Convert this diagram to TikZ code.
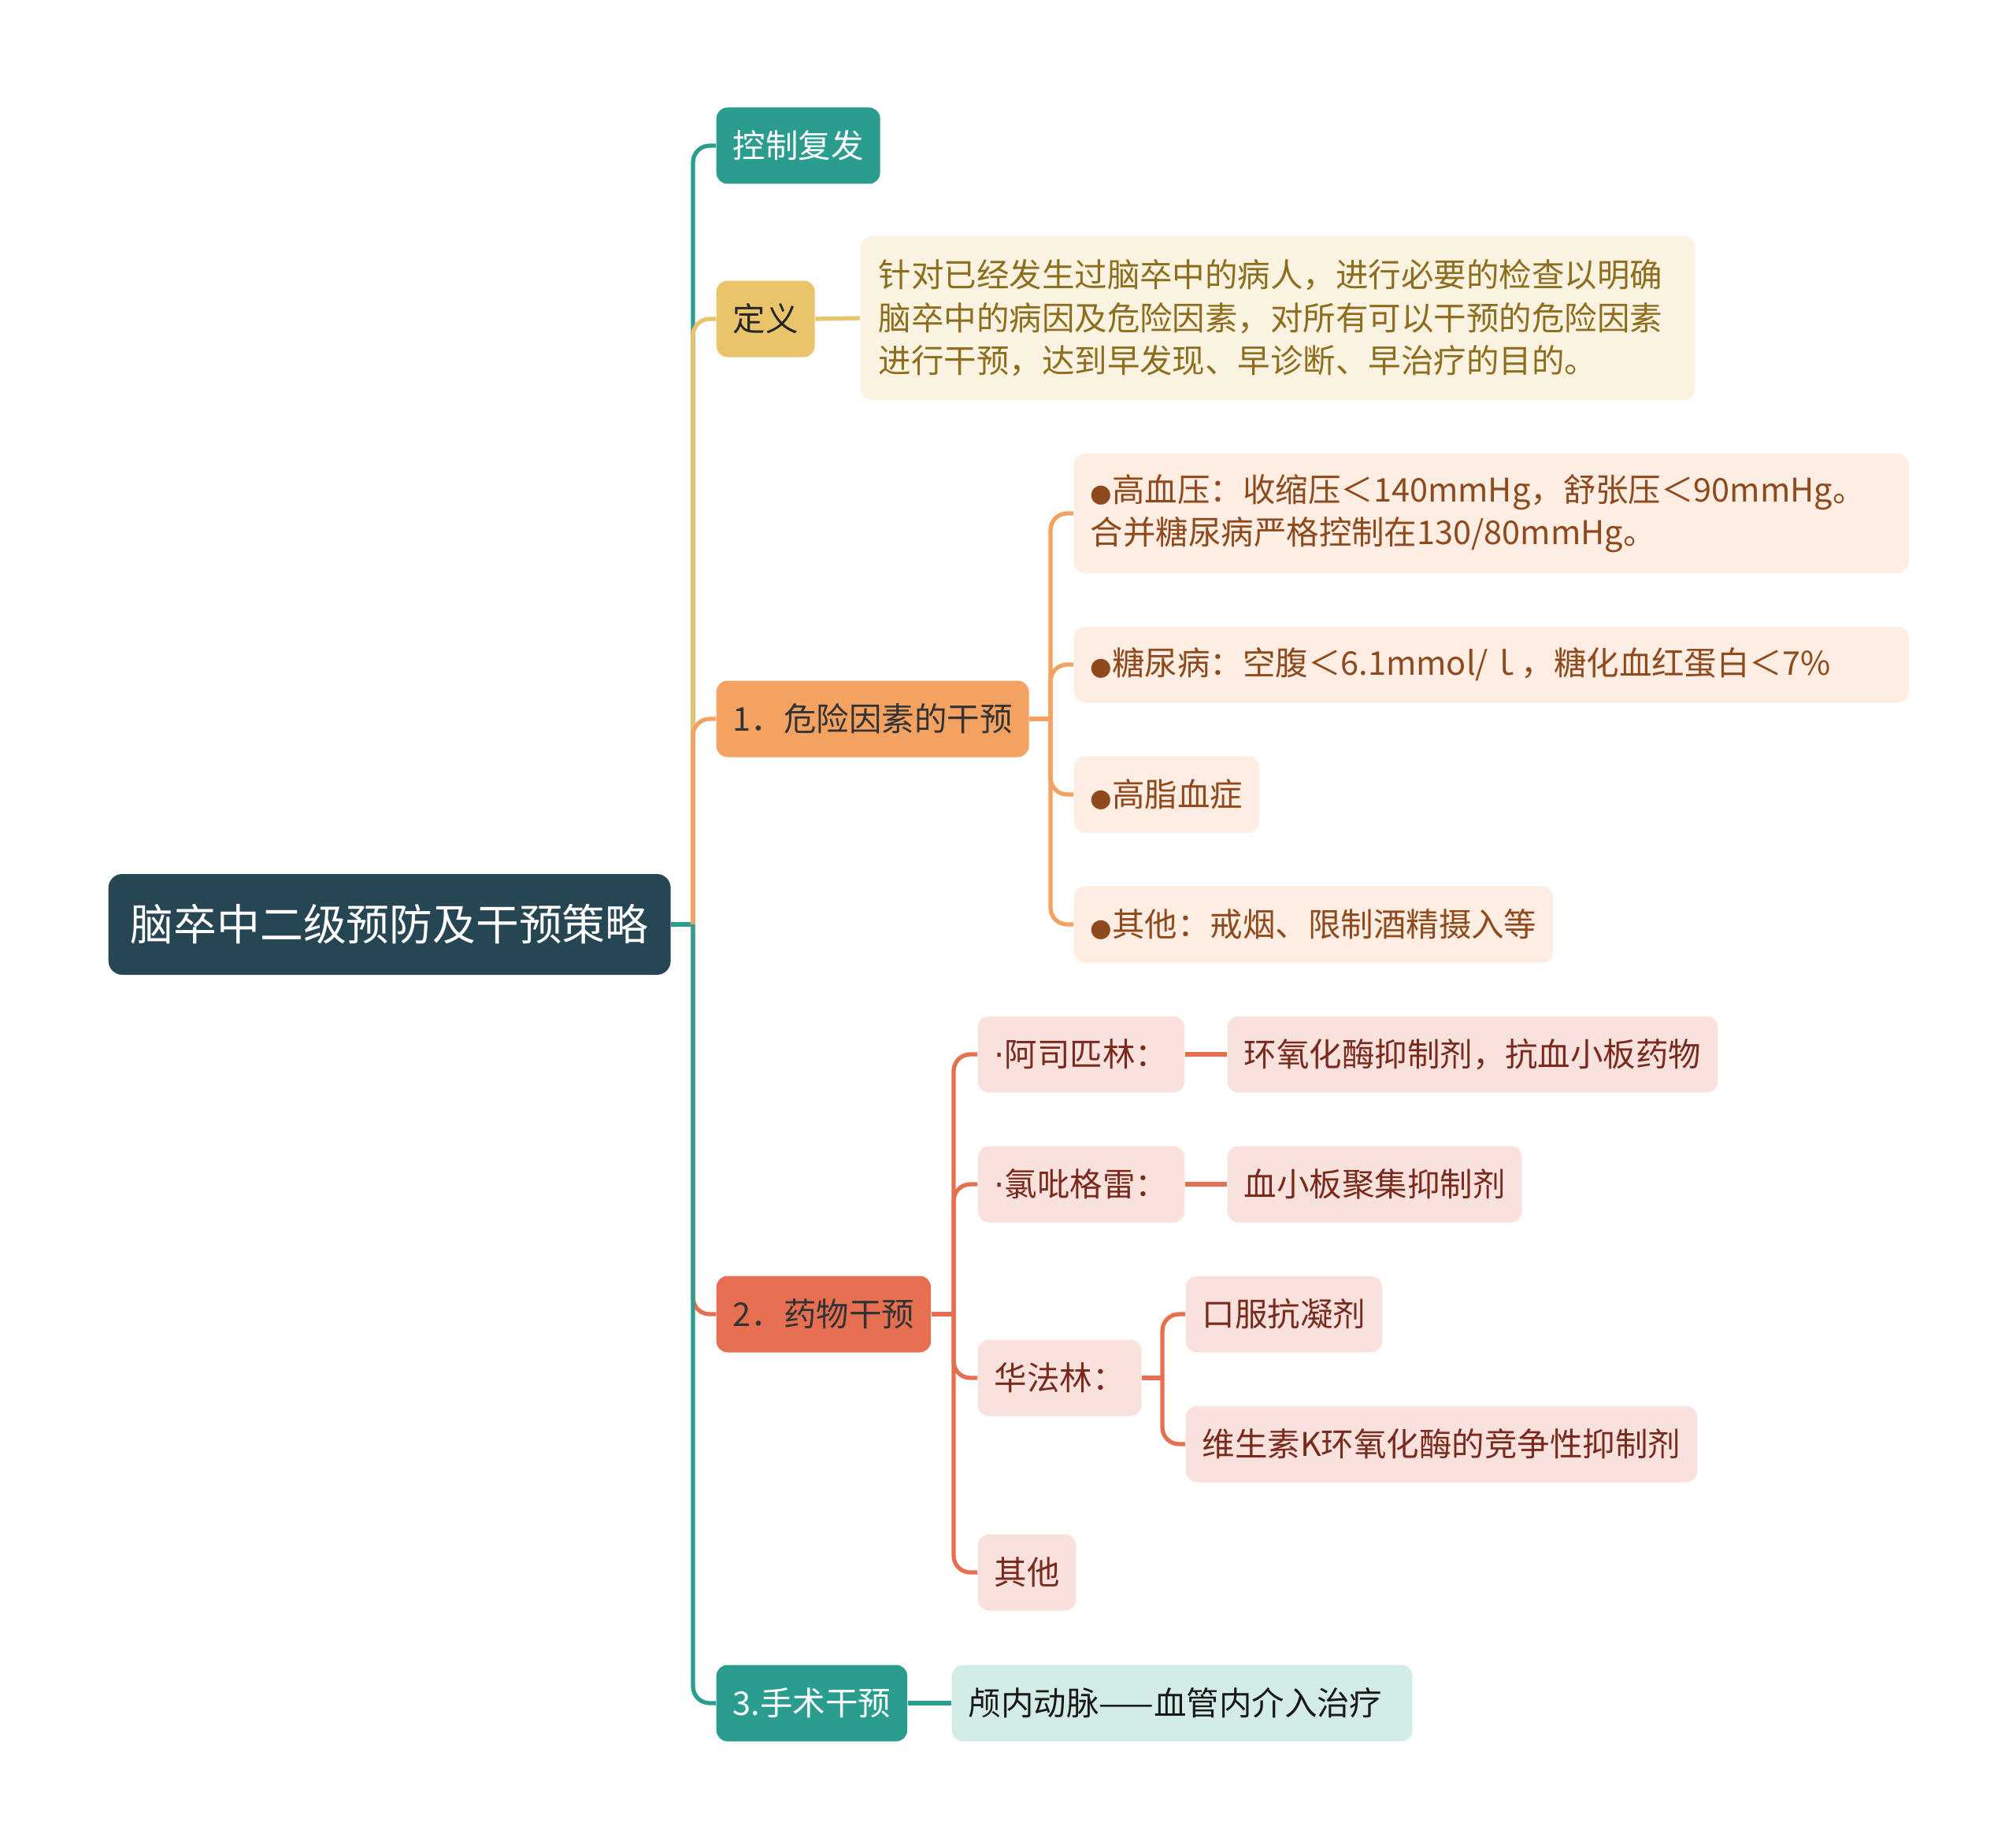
\documentclass[tikz,border=0pt]{standalone}
\usepackage{fontspec}
\setmainfont{Noto Sans CJK SC}
\newfontfamily\dotfont{DejaVu Sans}
\usepackage{tikz}
\definecolor{mapNavy}{HTML}{264653}
\definecolor{mapTeal}{HTML}{2A9D8F}
\definecolor{mapYellow}{HTML}{E9C46A}
\definecolor{mapOrange}{HTML}{F4A261}
\definecolor{mapRed}{HTML}{E76F51}
\definecolor{defFill}{HTML}{FBF3E1}
\definecolor{defText}{HTML}{8D6E1E}
\definecolor{riskFill}{HTML}{FDEDE3}
\definecolor{riskText}{HTML}{8E4A1C}
\definecolor{drugFill}{HTML}{F9E2DD}
\definecolor{drugText}{HTML}{7A2A1C}
\definecolor{surgFill}{HTML}{D4ECE8}
\newcommand{\bul}{{\dotfont\fontsize{9}{9}\selectfont ●}}
\newcommand{\mdot}{{\dotfont ·}}

\begin{document}
\begin{tikzpicture}[
		rootbox/.style={
			rounded corners=5pt, fill=mapNavy, text=white,
			font=\fontsize{15.6}{19}\selectfont, inner xsep=0.28cm, inner ysep=0pt,
			minimum height=1.28cm, anchor=west
		},
		mainbox/.style={
			rounded corners=4pt, font=\fontsize{11.8}{15.5}\selectfont,
			inner xsep=0.21cm, inner ysep=0pt, minimum height=0.97cm, anchor=west
		},
		riskleaf/.style={mainbox, fill=riskFill, text=riskText},
		drugleaf/.style={mainbox, fill=drugFill, text=drugText},
		link/.style={line width=1.5pt, rounded corners=6pt}
		]
		
		\useasboundingbox (0,0) rectangle (25.6,-23.47);
		
		\node[rootbox] (root) at (1.37,-11.74) {脑卒中二级预防及干预策略};
		
		\node[mainbox, fill=mapTeal, text=white] (ctrl) at (9.09,-1.85) {控制复发};
		
		\node[mainbox, fill=mapYellow, text=black!85] (def) at (9.09,-4.05) {定义};
		\node[mainbox, fill=defFill, text=defText, text width=10.14cm, align=left,
		inner xsep=0.23cm, minimum height=2.08cm] (deftext) at (10.92,-4.04)
		{针对已经发生过脑卒中的病人，进行必要的检查以明确\\
			脑卒中的病因及危险因素，对所有可以干预的危险因素\\
			进行干预，达到早发现、早诊断、早治疗的目的。};
		
		\node[mainbox, fill=mapOrange, text=black!80] (risk) at (9.09,-9.13) {1．危险因素的干预};
		\node[riskleaf, text width=10.18cm, align=left, minimum height=1.52cm] (hbp) at (13.63,-6.52)
		{\bul 高血压：收缩压＜140mmHg，舒张压＜90mmHg。\\
			合并糖尿病严格控制在130/80mmHg。};
		\node[riskleaf, text width=10.18cm, align=left] (dm) at (13.63,-8.44)
		{\bul 糖尿病：空腹＜6.1mmol/ｌ，糖化血红蛋白＜7\%};
		\node[riskleaf] (lipid) at (13.63,-10.09) {\bul 高脂血症};
		\node[riskleaf] (habit) at (13.63,-11.74) {\bul 其他：戒烟、限制酒精摄入等};
		
		\node[mainbox, fill=mapRed, text=black!80] (drug) at (9.09,-16.69) {2．药物干预};
		\node[drugleaf] (asp) at (12.41,-13.39) {\mdot 阿司匹林：};
		\node[drugleaf] (aspinfo) at (15.58,-13.39) {环氧化酶抑制剂，抗血小板药物};
		\node[drugleaf] (clop) at (12.41,-15.04) {\mdot 氯吡格雷：};
		\node[drugleaf] (clopinfo) at (15.58,-15.04) {血小板聚集抑制剂};
		\node[drugleaf] (warf) at (12.41,-17.50) {华法林：};
		\node[drugleaf] (warfa) at (15.05,-16.69) {口服抗凝剂};
		\node[drugleaf] (warfb) at (15.05,-18.34) {维生素K环氧化酶的竞争性抑制剂};
		\node[drugleaf] (drugoth) at (12.41,-19.97) {其他};
		
		\node[mainbox, fill=mapTeal, text=white] (surg) at (9.09,-21.63) {3.手术干预};
		\node[mainbox, fill=surgFill, text=black!90, text width=5.43cm, align=left] (surginfo) at (12.08,-21.63)
		{颅内动脉——血管内介入治疗};
		
		\coordinate (rootfork) at (8.80,-11.74);
		\coordinate (riskfork) at (13.34,-9.13);
		\coordinate (drugfork) at (12.11,-16.69);
		\coordinate (warffork) at (14.76,-17.50);
		
		% main branches
		\draw[link, mapTeal] (root.east) -- (rootfork);
		\draw[link, mapTeal] (rootfork) |- (ctrl.west);
		\draw[link, mapYellow] (rootfork) |- (def.west);
		\draw[link, mapOrange] (rootfork) |- (risk.west);
		\draw[link, mapRed] (rootfork) |- (drug.west);
		\draw[link, mapTeal] (rootfork) |- (surg.west);
		
		\draw[link, mapYellow] (def.east) -- (deftext.west);
		
		% risk factors
		\draw[link, mapOrange] (risk.east) -- (riskfork);
		\draw[link, mapOrange] (riskfork) |- (hbp.west);
		\draw[link, mapOrange] (riskfork) |- (dm.west);
		\draw[link, mapOrange] (riskfork) |- (lipid.west);
		\draw[link, mapOrange] (riskfork) |- (habit.west);
		
		% drugs
		\draw[link, mapRed] (drug.east) -- (drugfork);
		\draw[link, mapRed] (drugfork) |- (asp.west);
		\draw[link, mapRed] (drugfork) |- (clop.west);
		\draw[link, mapRed] (drugfork) |- (warf.west);
		\draw[link, mapRed] (drugfork) |- (drugoth.west);
		\draw[link, mapRed] (asp.east) -- (aspinfo.west);
		\draw[link, mapRed] (clop.east) -- (clopinfo.west);
		\draw[link, mapRed] (warf.east) -- (warffork);
		\draw[link, mapRed] (warffork) |- (warfa.west);
		\draw[link, mapRed] (warffork) |- (warfb.west);
		
		\draw[link, mapTeal] (surg.east) -- (surginfo.west);
		
	\end{tikzpicture}
\end{document}
